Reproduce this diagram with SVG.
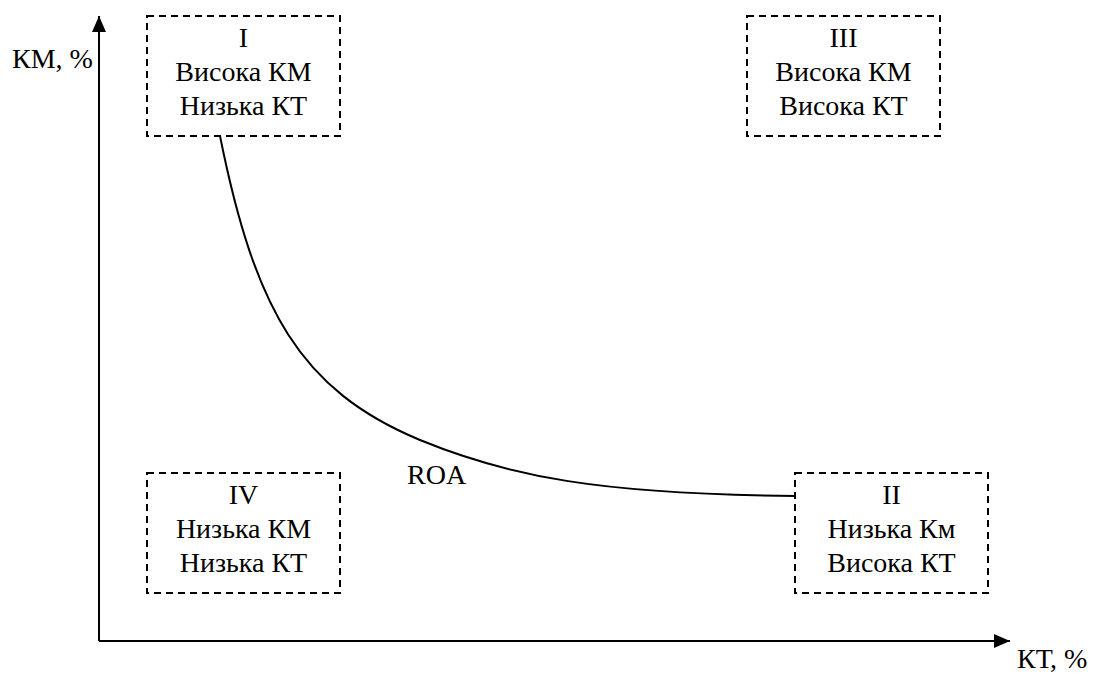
<svg xmlns="http://www.w3.org/2000/svg" width="1095" height="673" viewBox="0 0 1095 673">
<defs>
<style>
.box{fill:none;stroke:#000;stroke-width:2;stroke-dasharray:7,5}
.ln{fill:none;stroke:#000;stroke-width:2}
</style>
<marker id="arr" viewBox="0 0 16 14" refX="16" refY="7" markerWidth="16" markerHeight="14" markerUnits="userSpaceOnUse" orient="auto"><path d="M0,0L16,7L0,14z" fill="#000"/></marker>
</defs>
<rect width="1095" height="673" fill="#fff"/>
<g id="connectors">
<path class="ln" d="M99,641V16" marker-end="url(#arr)"/>
<path class="ln" d="M99,641H1010" marker-end="url(#arr)"/>
<path class="ln" d="M220,136C255,310 300,390 420,440C510,477 600,494 795,496"/>
</g>
<g font-family="'Liberation Serif', 'Times New Roman', 'DejaVu Serif', serif" font-size="28" fill="#000">
<g id="axis-labels">
<text x="12" y="68">КМ, %</text>
<text x="1017" y="668">КТ, %</text>
<text x="407" y="484">ROA</text>
</g>
<g id="node-I" text-anchor="middle">
<rect class="box" x="147" y="16" width="193" height="120"/>
<text x="243.5" y="47">I</text>
<text x="243.5" y="81">Висока КМ</text>
<text x="243.5" y="115">Низька КТ</text>
</g>
<g id="node-III" text-anchor="middle">
<rect class="box" x="747" y="16" width="193" height="120"/>
<text x="843.5" y="47">III</text>
<text x="843.5" y="81">Висока КМ</text>
<text x="843.5" y="115">Висока КТ</text>
</g>
<g id="node-IV" text-anchor="middle">
<rect class="box" x="147" y="473" width="193" height="120"/>
<text x="243.5" y="504">IV</text>
<text x="243.5" y="538">Низька КМ</text>
<text x="243.5" y="572">Низька КТ</text>
</g>
<g id="node-II" text-anchor="middle">
<rect class="box" x="795" y="473" width="193" height="120"/>
<text x="891.5" y="504">II</text>
<text x="891.5" y="538">Низька Км</text>
<text x="891.5" y="572">Висока КТ</text>
</g>
</g>
</svg>
